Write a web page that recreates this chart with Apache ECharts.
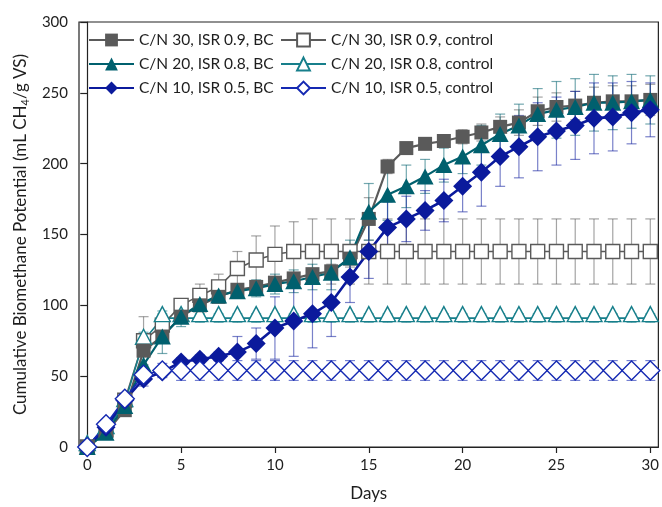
<!DOCTYPE html>
<html>
<head>
<meta charset="utf-8">
<script src="https://cdn.jsdelivr.net/npm/echarts@6/dist/echarts.min.js"></script>
<style>
  html, body { margin: 0; padding: 0; background: #fff; }
  #chart { width: 662px; height: 507px; }
</style>
</head>
<body>
<div id="chart"></div>
<script>
// Incubation days
const days = [0,1,2,3,4,5,6,7,8,9,10,11,12,13,14,15,16,17,18,19,20,21,22,23,24,25,26,27,28,29,30];
const xTicks = [0,5,10,15,20,25,30];

// Cumulative biomethane (mL CH4/g VS) and standard deviations
const cn30bc    = [0,10,26,68,78,92,100,106,111,113,116,119,122,124,133,161,198,211,214,216,219,222,226,229,237,240,241,243,244,244,245];
const cn30bcErr = [0,2,3,4,4,3,3,3,3,3,3,3,4,5,6,15,5,4,4,4,5,6,7,9,10,10,10,11,11,11,11];

const cn20bc    = [0,10,29,58,78,92,101,107,110,112,115,117,120,123,134,166,178,184,191,199,205,213,221,227,235,238,240,243,243,244,245];
const cn20bcErr = [0,2,3,10,12,7,5,5,5,6,7,8,9,12,12,20,18,15,12,12,12,14,14,15,18,20,20,20,19,19,17];

const cn10bc    = [0,14,33,48,53,60,62,64,67,73,84,89,94,102,120,138,155,161,167,174,184,194,205,212,219,223,227,232,233,236,238];
const cn10bcErr = [0,2,3,5,3,3,3,3,11,11,22,25,24,24,18,19,18,16,14,15,18,24,21,22,24,24,24,25,24,22,19];

const cn30ctl    = [0,12,33,75,86,100,107,113,126,132,136,138,138,138,138,138,138,138,138,138,138,138,138,138,138,138,138,138,138,138,138];
const cn30ctlErr = [0,2,3,17,8,4,8,9,12,17,20,21,23,23,23,23,23,23,23,23,23,23,23,23,23,23,23,23,23,23,23];

const cn20ctl    = [0,12,31,75,91,91,91,91,91,91,91,91,91,91,91,91,91,91,91,91,91,91,91,91,91,91,91,91,91,91,91];
const cn20ctlErr = [0,2,3,6,5,3,3,3,3,3,3,3,3,3,3,3,3,3,3,3,3,3,3,3,3,3,3,3,3,3,3];

const cn10ctl    = [0,16,34,51,54,54,54,54,54,54,54,54,54,54,54,54,54,54,54,54,54,54,54,54,54,54,54,54,54,54,54];
const cn10ctlErr = [0,2,3,4,5,7,7,7,7,7,7,7,7,7,7,7,7,7,7,7,7,7,7,7,7,7,7,7,7,7,7];

const names = {
  bc30: 'C/N 30, ISR 0.9, BC',
  bc20: 'C/N 20, ISR 0.8, BC',
  bc10: 'C/N 10, ISR 0.5, BC',
  ctl30: 'C/N 30, ISR 0.9, control',
  ctl20: 'C/N 20, ISR 0.8, control',
  ctl10: 'C/N 10, ISR 0.5, control'
};

const FONT = 'Lato, "Open Sans", sans-serif';
const TEXT = '#1e1e1e';

function errorSeries(vals, errs, color) {
  return {
    type: 'custom',
    data: days.map((d, i) => [d, vals[i] - errs[i], vals[i] + errs[i]]),
    encode: { x: 0, y: [1, 2] },
    silent: true,
    clip: false,
    animation: false,
    renderItem(params, api) {
      const x = api.value(0);
      if (api.value(2) - api.value(1) <= 0) return;
      const lo = api.coord([x, api.value(1)]);
      const hi = api.coord([x, api.value(2)]);
      const w = 5;
      const style = { stroke: color, lineWidth: 1.2 };
      return {
        type: 'group',
        children: [
          { type: 'line', shape: { x1: lo[0], y1: lo[1], x2: hi[0], y2: hi[1] }, style },
          { type: 'line', shape: { x1: hi[0] - w, y1: hi[1], x2: hi[0] + w, y2: hi[1] }, style },
          { type: 'line', shape: { x1: lo[0] - w, y1: lo[1], x2: lo[0] + w, y2: lo[1] }, style }
        ]
      };
    }
  };
}

function lineSeries(name, vals, symbol, size, color, hollow, lineWidth, extra) {
  return Object.assign({
    type: 'line',
    name,
    data: days.map((d, i) => [d, vals[i]]),
    symbol,
    symbolSize: size,
    showAllSymbol: true,
    animation: false,
    emphasis: { disabled: true },
    lineStyle: { color, width: lineWidth },
    itemStyle: hollow
      ? { color: '#ffffff', borderColor: color, borderWidth: 1.4 }
      : { color, borderWidth: 0 }
  }, extra || {});
}

const C30 = '#5a5a5a', C20 = '#00606e', C10 = '#0b1a9c';
const C20c = '#177f8b', C10c = '#1529b2';

const chart = echarts.init(document.getElementById('chart'), null, { renderer: 'canvas' });

const legendBase = {
  top: 32, orient: 'vertical', padding: 0,
  itemWidth: 45, itemHeight: 16, itemGap: 8, selectedMode: false,
  textStyle: { fontFamily: FONT, fontSize: 15.5, color: TEXT }
};

chart.setOption({
  animation: false,
  backgroundColor: '#ffffff',
  grid: {
    left: 79, right: 2, top: 22, bottom: 56,
    show: true, borderColor: '#222', borderWidth: 1.2, backgroundColor: 'transparent'
  },
  legend: [
    Object.assign({ data: [names.bc30, names.bc20, names.bc10], left: 88 }, legendBase),
    Object.assign({ data: [names.ctl30, names.ctl20, names.ctl10], left: 280 }, legendBase)
  ],
  xAxis: {
    type: 'value',
    min: -0.44, max: 30.43,
    name: 'Days', nameLocation: 'middle', nameGap: 38,
    nameTextStyle: { fontFamily: FONT, fontSize: 17, color: TEXT },
    axisLine: { lineStyle: { color: '#222', width: 1.2 } },
    axisTick: { customValues: xTicks, length: 6, lineStyle: { color: '#222', width: 1.2 } },
    axisLabel: { customValues: xTicks, fontFamily: FONT, fontSize: 15, color: TEXT, margin: 11 },
    splitLine: { show: false }
  },
  yAxis: {
    type: 'value',
    min: 0, max: 300, interval: 50,
    name: '{a|Cumulative Biomethane Potential (mL CH}{s|4}{a|/g VS)}',
    nameLocation: 'middle', nameGap: 47,
    nameTextStyle: {
      rich: {
        a: { fontFamily: FONT, fontSize: 17, color: TEXT, lineHeight: 20 },
        s: { fontFamily: FONT, fontSize: 11, color: TEXT, lineHeight: 11, verticalAlign: 'bottom' }
      }
    },
    axisLine: { show: true, lineStyle: { color: '#222', width: 1.2 } },
    axisTick: { show: true, length: 7, lineStyle: { color: '#222', width: 1.2 } },
    axisLabel: { fontFamily: FONT, fontSize: 15, color: TEXT, margin: 11 },
    splitLine: { show: false }
  },
  series: [
    errorSeries(cn30ctl, cn30ctlErr, 'rgba(90,90,90,0.55)'),
    lineSeries(names.ctl30, cn30ctl, 'rect', 14, C30, true, 1.6),
    errorSeries(cn20ctl, cn20ctlErr, 'rgba(23,127,139,0.6)'),
    lineSeries(names.ctl20, cn20ctl, 'triangle', [16, 15], C20c, true, 1.6, { symbolOffset: [0, -4] }),
    errorSeries(cn30bc, cn30bcErr, 'rgba(90,90,90,0.55)'),
    lineSeries(names.bc30, cn30bc, 'rect', 14, C30, false, 2.2),
    errorSeries(cn20bc, cn20bcErr, 'rgba(0,96,110,0.55)'),
    lineSeries(names.bc20, cn20bc, 'triangle', [17, 16], C20, false, 2.2),
    errorSeries(cn10bc, cn10bcErr, 'rgba(11,26,156,0.55)'),
    lineSeries(names.bc10, cn10bc, 'diamond', 19, C10, false, 2.6),
    errorSeries(cn10ctl, cn10ctlErr, 'rgba(21,41,178,0.6)'),
    lineSeries(names.ctl10, cn10ctl, 'diamond', 19, C10c, true, 1.6)
  ]
});
</script>
</body>
</html>
